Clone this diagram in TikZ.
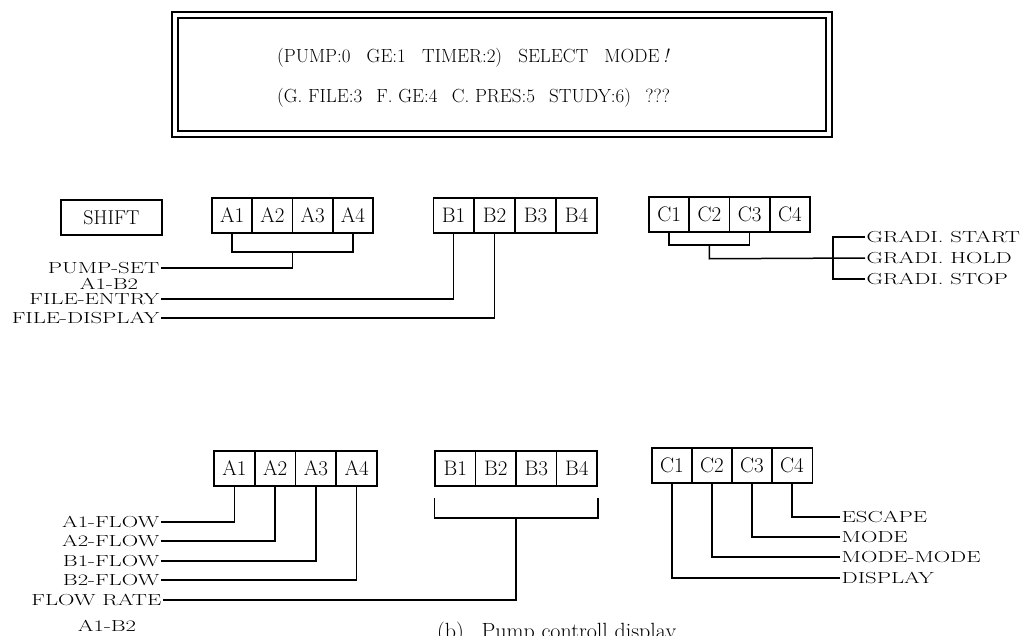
\documentclass[tikz,border=0pt]{standalone}
\usetikzlibrary{calc}
\newcommand{\wcap}[1]{\scalebox{1.42}[1]{#1}}
\tikzset{
  cell/.style={draw, line width=1.5pt, minimum width=40.5pt, minimum height=35pt, inner sep=0pt, font=\fontsize{21}{25}\selectfont},
  lab/.style={inner sep=1.5pt, font=\fontsize{16}{19}\selectfont},
  conn/.style={line width=1.5pt},
  frame/.style={draw, line width=1.5pt},
  big/.style={inner sep=0pt, font=\fontsize{19}{23}\selectfont},
}
\begin{document}
\begin{tikzpicture}[x=1pt,y=-1pt]
\useasboundingbox (0,0) rectangle (1032,636);
% top double frame
\draw[frame] (172,12) rectangle (832,137);
\draw[frame] (178,18) rectangle (826,131);
\node[big, anchor=base west] (t1) at (277,63) {(PUMP:0\hspace{0.85em}GE:1\hspace{0.85em}TIMER:2)\hspace{0.85em}SELECT\hspace{0.85em}MODE\,\textit{!}};
\node[big, anchor=base west] (t2) at (277,103) {(G. FILE:3\hspace{0.75em}F. GE:4\hspace{0.75em}C. PRES:5\hspace{0.75em}STUDY:6)\hspace{0.75em}???};

% ---------- row 1 ----------
\node[cell, minimum width=101pt, font=\fontsize{20}{24}\selectfont] (shift) at (111.5,217.5) {SHIFT};
\foreach \i in {1,...,4} {\node[cell] (ra\i) at ({212+40.25*(\i-0.5)},215.5) {A\i};}
\foreach \i in {1,...,4} {\node[cell] (rb\i) at ({433+41*(\i-0.5)},215.5) {B\i};}
\foreach \i in {1,...,4} {\node[cell] (rc\i) at ({649+40.25*(\i-0.5)},214.5) {C\i};}

\node[lab, anchor=east] (pumpset) at (161,268) {\wcap{PUMP-SET}};
\node[lab] (ab1) at (109,284) {\wcap{A1-B2}};
\node[lab, anchor=east] (fentry) at (161,299) {\wcap{FILE-ENTRY}};
\node[lab, anchor=east] (fdisp) at (161,318) {\wcap{FILE-DISPLAY}};

\coordinate (pa) at ($(ra1.south)+(0,18)$);
\coordinate (pm) at ($(ra1.south)!0.5!(ra4.south)+(0,18)$);
\draw[conn] (ra1.south) -- (pa) -| (ra4.south);
\draw[conn] (pm) |- (pumpset.east);
\draw[conn] (rb1.south) |- (fentry.east);
\draw[conn] (rb2.south) |- (fdisp.east);

\node[lab, anchor=west] (gs) at (865,237) {\wcap{GRADI. START}};
\node[lab, anchor=west] (gh) at (865,258) {\wcap{GRADI. HOLD}};
\node[lab, anchor=west] (gt) at (865,279) {\wcap{GRADI. STOP}};
\coordinate (ca) at ($(rc1.south)+(0,12)$);
\coordinate (cm) at ($(rc1.south)!0.5!(rc3.south)+(0,26)$);
\coordinate (cj) at (833,237);
\draw[conn] (rc1.south) -- (ca) -| (rc3.south);
\draw[conn] ($(rc1.south)!0.5!(rc3.south)+(0,12)$) -- (cm) -- (gh.west);
\draw[conn] (gs.west) -- (cj) |- (gt.west);

% ---------- row 2 ----------
\foreach \i in {1,...,4} {\node[cell] (sa\i) at ({214+40.75*(\i-0.5)},468.5) {A\i};}
\foreach \i in {1,...,4} {\node[cell] (sb\i) at ({435+40.5*(\i-0.5)},468.5) {B\i};}
\foreach \i in {1,...,4} {\node[cell] (sc\i) at ({652+40*(\i-0.5)},465.5) {C\i};}

\node[lab, anchor=east] (f1) at (161,522) {\wcap{A1-FLOW}};
\node[lab, anchor=east] (f2) at (161,541) {\wcap{A2-FLOW}};
\node[lab, anchor=east] (f3) at (161,561) {\wcap{B1-FLOW}};
\node[lab, anchor=east] (f4) at (161,580) {\wcap{B2-FLOW}};
\node[lab, anchor=east] (fr) at (163,600) {\wcap{FLOW RATE}};
\node[lab] (ab2) at (107,626) {\wcap{A1-B2}};

\draw[conn] (sa1.south) |- (f1.east);
\draw[conn] (sa2.south) |- (f2.east);
\draw[conn] (sa3.south) |- (f3.east);
\draw[conn] (sa4.south) |- (f4.east);

\coordinate (bl) at ($(sb1.south west)+(0,11)$);
\coordinate (br) at ($(sb4.south east)+(0,11)$);
\coordinate (bm) at ($(bl)!0.5!(br)+(0,20)$);
\draw[conn] (bl) -- ++(0,20) -| (br);
\draw[conn] (bm) |- (fr.east);

\node[lab, anchor=west] (esc) at (840,517) {\wcap{ESCAPE}};
\node[lab, anchor=west] (mode) at (840,537) {\wcap{MODE}};
\node[lab, anchor=west] (mm) at (840,557) {\wcap{MODE-MODE}};
\node[lab, anchor=west] (disp) at (840,578) {\wcap{DISPLAY}};
\draw[conn] (sc4.south) |- (esc.west);
\draw[conn] (sc3.south) |- (mode.west);
\draw[conn] (sc2.south) |- (mm.west);
\draw[conn] (sc1.south) |- (disp.west);

% caption (cut at the bottom as in the reference)
\node[big, anchor=north west, font=\fontsize{22}{26}\selectfont] (cap) at (437,622) {(b)\hspace{0.8em}Pump controll display};
\end{tikzpicture}
\end{document}
